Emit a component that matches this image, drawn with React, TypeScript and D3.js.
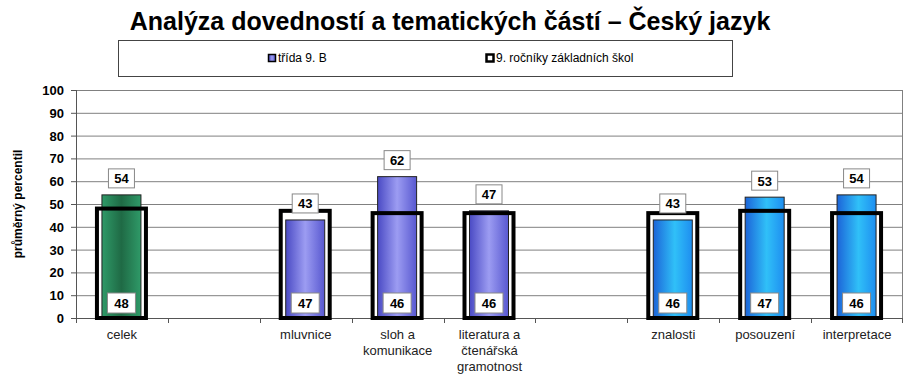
import React from "react";
import * as d3 from "d3";

const categories = ["celek", "", "mluvnice", "sloh a|komunikace", "literatura a|čtenářská|gramotnost", "", "znalosti", "posouzení", "interpretace"];
const slots = [0, 2, 3, 4, 6, 7, 8];
const classValues = [54, 43, 62, 47, 43, 53, 54];
const schoolValues = [48, 47, 46, 46, 46, 47, 46];
const groups = ["g", "p", "p", "p", "b", "b", "b"];
const yTicks = [0, 10, 20, 30, 40, 50, 60, 70, 80, 90, 100];
const seriesNames = ["třída  9. B", "9. ročníky základních škol"];
const title = "Analýza dovedností a tematických částí – Český jazyk";
const yTitle = "průměrný percentil";

export default function App() {
  const W = 908, H = 378;
  const x = d3.scaleBand<number>().domain(d3.range(categories.length)).range([76, 903]).padding(0);
  const y = d3.scaleLinear().domain([0, 100]).range([318, 90]);
  const font = "Liberation Sans, Arial, sans-serif";
  const outerW = 49, innerW = 39;
  const cx = (i: number) => (x(slots[i]) as number) + x.bandwidth() / 2 - 0.5;

  return (
    <svg width={W} height={H} style={{ position: "absolute", left: 0, top: 0, background: "#fff" }} fontFamily={font}>
      <defs>
        <linearGradient id="gg" x1="0" x2="1" y1="0" y2="0">
          <stop offset="0" stopColor="#2f9a68" />
          <stop offset="0.5" stopColor="#1f6a45" />
          <stop offset="1" stopColor="#2f9a68" />
        </linearGradient>
        <linearGradient id="gp" x1="0" x2="1" y1="0" y2="0">
          <stop offset="0" stopColor="#4a4ac4" />
          <stop offset="0.5" stopColor="#9c9cf2" />
          <stop offset="1" stopColor="#5858d0" />
        </linearGradient>
        <linearGradient id="gb" x1="0" x2="1" y1="0" y2="0">
          <stop offset="0" stopColor="#1c64d8" />
          <stop offset="0.55" stopColor="#30c0f8" />
          <stop offset="1" stopColor="#1e8ef0" />
        </linearGradient>
      </defs>
      <rect x={0} y={0} width={W} height={H} fill="#fff" />
      <text x={450} y={30} textAnchor="middle" fontSize={25} fontWeight="bold" fill="#000">{title}</text>
      {/* legend */}
      <rect x={118.5} y={40.5} width={614} height={36} fill="#fff" stroke="#444" strokeWidth={1} />
      <rect x={268.5} y={54.5} width={7} height={7} fill="url(#gp)" stroke="#000" strokeWidth={1.5} />
      <text x={278} y={62} fontSize={12} fill="#000">{seriesNames[0]}</text>
      <rect x={486.5} y={54.5} width={7} height={7} fill="#fff" stroke="#000" strokeWidth={2.5} />
      <text x={496} y={62} fontSize={12} fill="#000">{seriesNames[1]}</text>
      {/* grid */}
      {yTicks.map((t) => (
        <g key={t}>
          <line x1={76} x2={902} y1={y(t) + 0.5} y2={y(t) + 0.5} stroke={t === 0 ? "#555" : "#808080"} strokeWidth={1} />
          <line x1={71} x2={76} y1={y(t) + 0.5} y2={y(t) + 0.5} stroke="#555" />
          <text x={64} y={y(t) + 5} textAnchor="end" fontSize={13} fontWeight="bold" fill="#000">{t}</text>
        </g>
      ))}
      <line x1={76.5} x2={76.5} y1={y(100)} y2={y(0) + 1} stroke="#555" />
      <line x1={902.5} x2={902.5} y1={y(100)} y2={y(0) + 1} stroke="#808080" />
      {d3.range(categories.length + 1).map((i) => {
        const xx = i === categories.length ? 902.5 : Math.round(x(i) as number) + 0.5;
        return <line key={i} x1={xx} x2={xx} y1={y(0)} y2={y(0) + 5} stroke="#555" />;
      })}
      <text transform={`translate(22,${y(50)}) rotate(-90)`} textAnchor="middle" fontSize={12} fontWeight="bold" fill="#000">{yTitle}</text>
      {/* bars */}
      {slots.map((s, i) => {
        const c = cx(i);
        return (
          <g key={i}>
            <rect x={c - outerW / 2} y={y(schoolValues[i])} width={outerW} height={y(0) - y(schoolValues[i])} fill="#fff" />
            <rect x={c - innerW / 2} y={y(classValues[i])} width={innerW} height={y(0) - y(classValues[i])} fill={`url(#g${groups[i]})`} stroke="#222" strokeWidth={1} />
            <rect x={c - outerW / 2} y={y(schoolValues[i])} width={outerW} height={y(0) - y(schoolValues[i])} fill="none" stroke="#000" strokeWidth={4} />
            <rect x={c - 13} y={y(classValues[i]) - 26} width={26} height={19} fill="#fff" stroke="#888" strokeWidth={1} />
            <text x={c} y={y(classValues[i]) - 11.5} textAnchor="middle" fontSize={13} fontWeight="bold" fill="#000">{classValues[i]}</text>
            <rect x={c - 14} y={293} width={28} height={20} fill="#fff" stroke="#888" strokeWidth={1} />
            <text x={c} y={308} textAnchor="middle" fontSize={13} fontWeight="bold" fill="#000">{schoolValues[i]}</text>
          </g>
        );
      })}
      {/* x labels */}
      {categories.map((c, i) =>
        c ? (
          <text key={i} textAnchor="middle" fontSize={13} fill="#222">
            {c.split("|").map((line, j) => (
              <tspan key={j} x={(x(i) as number) + x.bandwidth() / 2} y={339 + j * 16}>{line}</tspan>
            ))}
          </text>
        ) : null
      )}
    </svg>
  );
}
